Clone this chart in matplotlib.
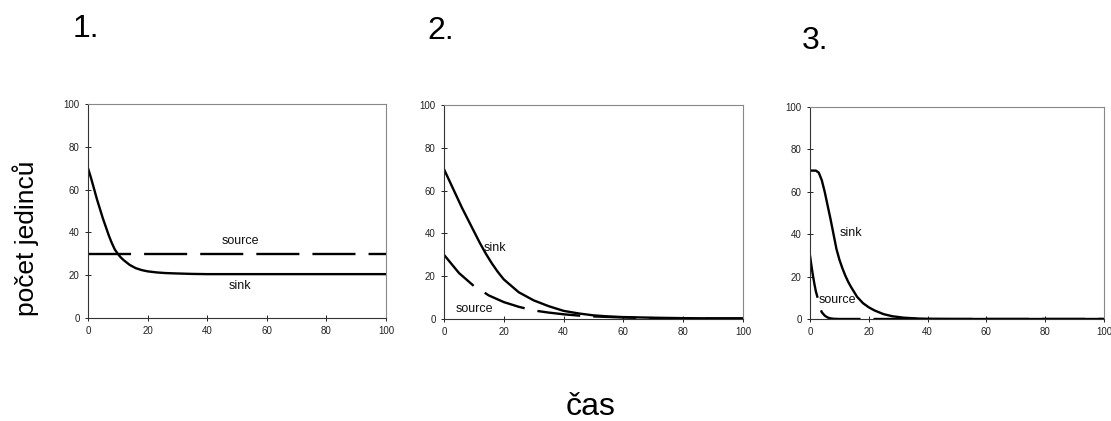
import matplotlib
matplotlib.use("Agg")
import matplotlib.pyplot as plt
from matplotlib import font_manager

names = {f.name for f in font_manager.fontManager.ttflist}
BASE = ['Liberation Sans', 'DejaVu Sans']
NARROW = (['Liberation Sans Narrow'] if 'Liberation Sans Narrow' in names else []) + BASE
plt.rcParams['font.family'] = BASE
plt.rcParams['lines.scale_dashes'] = False

# ---- data ----
panel_titles = ["1.", "2.", "3."]
x_ticks = [0, 20, 40, 60, 80, 100]
y_ticks = [0, 20, 40, 60, 80, 100]
xlabel_text = "čas"
ylabel_text = "počet jedinců"

t1_sink = [0, 1, 2, 3, 4, 5, 6, 7, 8, 9, 10, 11, 12, 14, 16, 18, 20, 23, 26, 30, 35, 40, 50, 60, 70, 80, 90, 100]
y1_sink = [70, 65.5, 60.5, 55.5, 51, 46.5, 42.5, 38.5, 35, 32, 30, 28.3, 27, 24.8, 23.3, 22.4, 21.8, 21.3, 21, 20.8,
           20.6, 20.5, 20.5, 20.5, 20.5, 20.5, 20.5, 20.5]
t1_source = [0, 100]
y1_source = [30, 30]

t2_sink = [0, 2, 4, 6, 8, 10, 12, 14, 16, 18, 20, 25, 30, 35, 40, 45, 50, 55, 60, 70, 80, 90, 100]
y2_sink = [70, 64, 58, 52, 46.5, 41, 35.5, 30.5, 26, 22, 18.5, 12.5, 8.7, 6, 3.8, 2.6, 1.7, 1.2, 0.9, 0.6, 0.4, 0.3, 0.3]
t2_source = [0, 5, 10, 13, 15, 20, 25, 30, 35, 40, 45, 50, 60, 70, 80, 90, 100]
y2_source = [30, 21.5, 15.4, 12.8, 11, 7.9, 5.7, 4, 3, 2.2, 1.6, 1.2, 0.7, 0.4, 0.3, 0.2, 0.2]

t3_sink = [0, 1, 2, 3, 4, 5, 6, 7, 8, 9, 10, 11, 12, 13, 14, 16, 18, 20, 22, 25, 28, 32, 37, 42, 50, 100]
y3_sink = [70, 70, 70, 69, 65.5, 60, 53.5, 47, 40, 33, 28, 24, 20.5, 17.5, 15, 10.5, 7.5, 5.5, 4, 2.3, 1.3, 0.6, 0.2,
           0.05, 0, 0]
t3_source = [0, 0.5, 1, 1.5, 2, 2.5, 3, 3.5, 4, 5, 6, 7, 8, 10, 100]
y3_source = [30, 25, 20.5, 16.5, 13, 10.5, 7.5, 5, 3.2, 1.6, 0.7, 0.3, 0.1, 0, 0]

series = [
    (t1_sink, y1_sink, t1_source, y1_source),
    (t2_sink, y2_sink, t2_source, y2_source),
    (t3_sink, y3_sink, t3_source, y3_source),
]
# label anchor positions (data coords) for "sink" / "source"
label_pos = [
    ((51, 14.8), (51, 36.2)),
    ((17, 33), (10, 4.5)),
    ((13.8, 40.4), (9.4, 9.1)),
]

W, H = 1111, 421
fig = plt.figure(figsize=(W / 100, H / 100), dpi=100)

boxes = [(88, 104, 386, 318), (444, 105, 743, 319), (810, 107, 1104, 319)]
title_pos = [(73, 29), (427, 31), (802, 41)]

for i, ((l, t, r, b), (ts, ys, tq, yq), (sp, qp)) in enumerate(zip(boxes, series, label_pos)):
    ax = fig.add_axes([l / W, (H - b) / H, (r - l) / W, (b - t) / H])
    ax.plot(ts, ys, color='black', lw=1.7, solid_capstyle='butt')
    ln, = ax.plot(tq, yq, color='black', lw=1.7, dash_capstyle='butt')
    ln.set_dashes((31, 9.4))
    ax.set_xlim(0, 100)
    ax.set_ylim(0, 100)
    ax.set_xticks(x_ticks)
    ax.set_yticks(y_ticks)
    ax.tick_params(direction='inout', length=4, width=0.7, labelsize=7, pad=4, colors='#222222')
    for s in ['left', 'bottom']:
        ax.spines[s].set_color('#333333')
        ax.spines[s].set_linewidth(0.8)
    for s in ['top', 'right']:
        ax.spines[s].set_color('#888888')
        ax.spines[s].set_linewidth(0.8)
    ax.text(sp[0], sp[1], "sink", fontsize=9, ha='center', va='center', color='#111111')
    ax.text(qp[0], qp[1], "source", fontsize=9, ha='center', va='center', color='#111111')
    fig.text(title_pos[i][0] / W, 1 - title_pos[i][1] / H, panel_titles[i], fontsize=23,
             family=NARROW, ha='left', va='center')

fig.text(591 / W, 1 - 407 / H, xlabel_text, fontsize=23, ha='center', va='center')
fig.text(26 / W, 1 - 238 / H, ylabel_text, fontsize=19, rotation=90, ha='center', va='center')

fig.savefig("out.png", dpi=100)
